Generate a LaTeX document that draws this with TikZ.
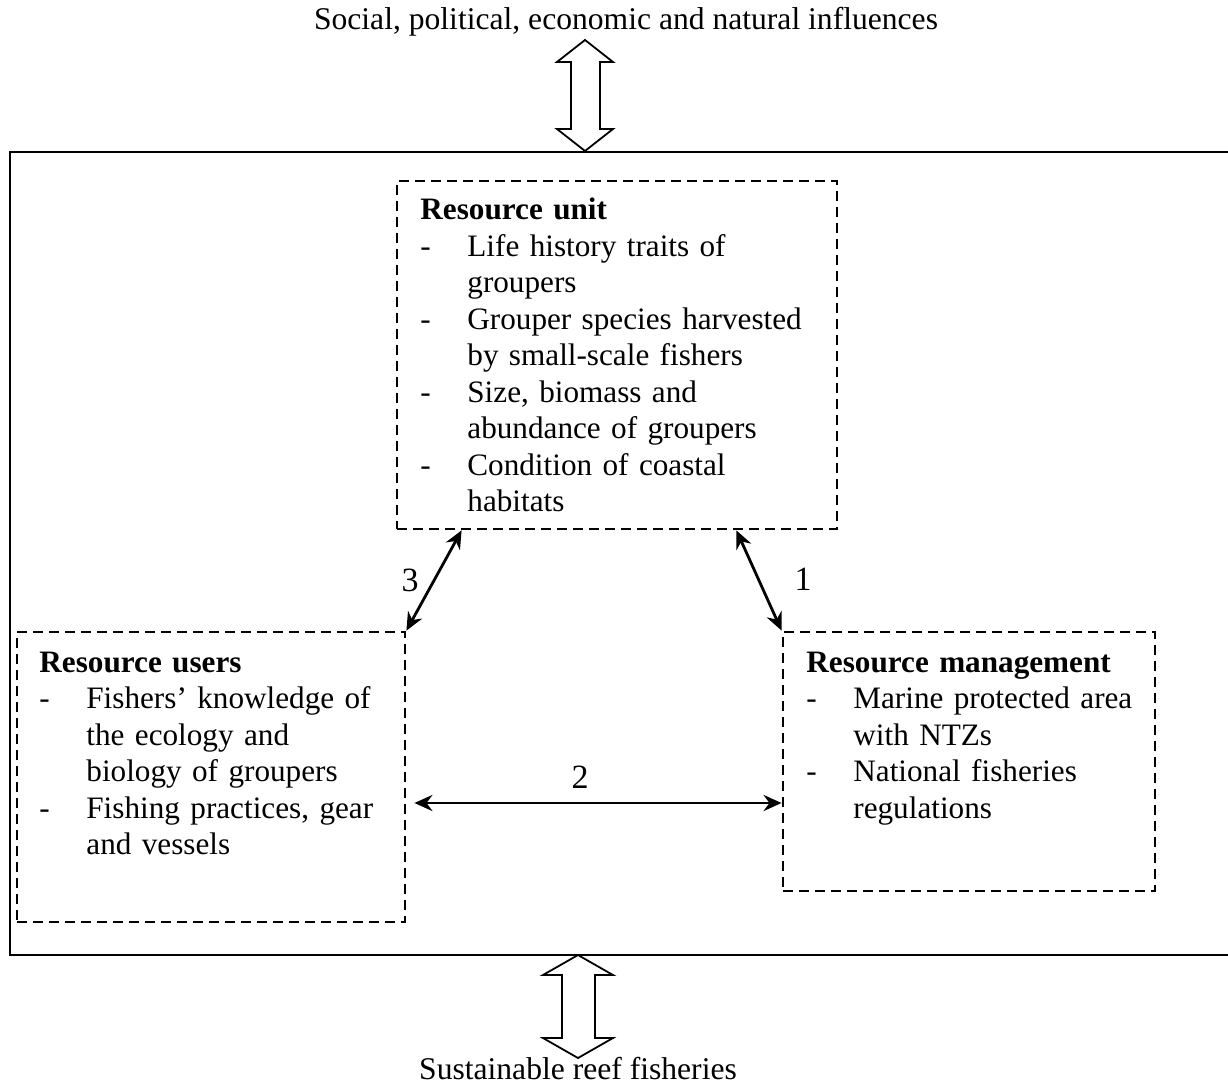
\documentclass[tikz,border=0pt]{standalone}
\usepackage{fontspec}
\setmainfont{Liberation Serif}
\usetikzlibrary{arrows.meta}
\newcommand\dsh{\makebox[23.5pt][l]{-}}
\newcommand\ind{\hspace*{23.5pt}}
\begin{document}
\begin{tikzpicture}[x=0.5pt,y=-0.5pt,
  dbox/.style={draw, line width=1.4pt, dash pattern=on 5pt off 3pt, inner sep=0, minimum width=#1},
  btext/.style={anchor=base west, inner sep=0, text width=240pt, align=left,
     font=\fontsize{15.6}{18.25}\selectfont},
  lbl/.style={inner sep=0, font=\fontsize{15.8}{18.25}\selectfont},
  num/.style={inner sep=0, font=\fontsize{17}{18}\selectfont},
  conn/.style={line width=1.4pt, {Stealth[length=9pt,width=8pt]}-{Stealth[length=9pt,width=8pt]}},
  darrow/.style={draw, line width=0.9pt, fill=white, line join=miter}]
\useasboundingbox (0,0) rectangle (1228,1086);
% outer frame (open on the right)
\draw[line width=0.8pt] (1230,152) -- (10,152) -- (10,955) -- (1230,955);
% double arrows
\draw[darrow] (585,40) -- (613,62) -- (600,62) -- (600,129) -- (613,129) -- (585,151)
  -- (557,129) -- (571,129) -- (571,62) -- (557,62) -- cycle;
\draw[darrow] (578,955) -- (613,975) -- (595,975) -- (595,1038) -- (613,1038) -- (578,1058)
  -- (543,1038) -- (562,1038) -- (562,975) -- (543,975) -- cycle;
% outer labels
\node[lbl, anchor=base] (top) at (626,30) {Social, political, economic and natural influences};
\node[lbl, anchor=base] (bot) at (578,1079) {Sustainable reef fisheries};
% boxes
\node[dbox=220pt, minimum height=174pt] (unit) at (617,355) {};
\node[dbox=194pt, minimum height=145pt] (users) at (211,777) {};
\node[dbox=186pt, minimum height=129.5pt] (mgmt) at (969,761.5) {};
% box texts
\node[btext] (unitt) at (420,220) {\textbf{Resource unit}\\
\dsh Life history traits of\\
\ind groupers\\
\dsh Grouper species harvested\\
\ind by small-scale fishers\\
\dsh Size, biomass and\\
\ind abundance of groupers\\
\dsh Condition of coastal\\
\ind habitats};
\node[btext] (userst) at (39,672) {\textbf{Resource users}\\
\dsh Fishers’ knowledge of\\
\ind the ecology and\\
\ind biology of groupers\\
\dsh Fishing practices, gear\\
\ind and vessels};
\node[btext] (mgmtt) at (806,672) {\textbf{Resource management}\\
\dsh Marine protected area\\
\ind with NTZs\\
\dsh National fisheries\\
\ind regulations};
% connectors
\coordinate (a2) at (600,803);
\draw[conn] ([xshift=33pt]unit.south west) -- (users.north east);
\draw[conn] ([xshift=-51pt]unit.south east) -- (mgmt.north west);
\draw[conn, shorten <=4pt] (users.east |- a2) -- (mgmt.west |- a2);
\node[num] (n3) at (410,580) {3};
\node[num] (n1) at (803,579) {1};
\node[num] (n2) at (580,777) {2};
\end{tikzpicture}
\end{document}
